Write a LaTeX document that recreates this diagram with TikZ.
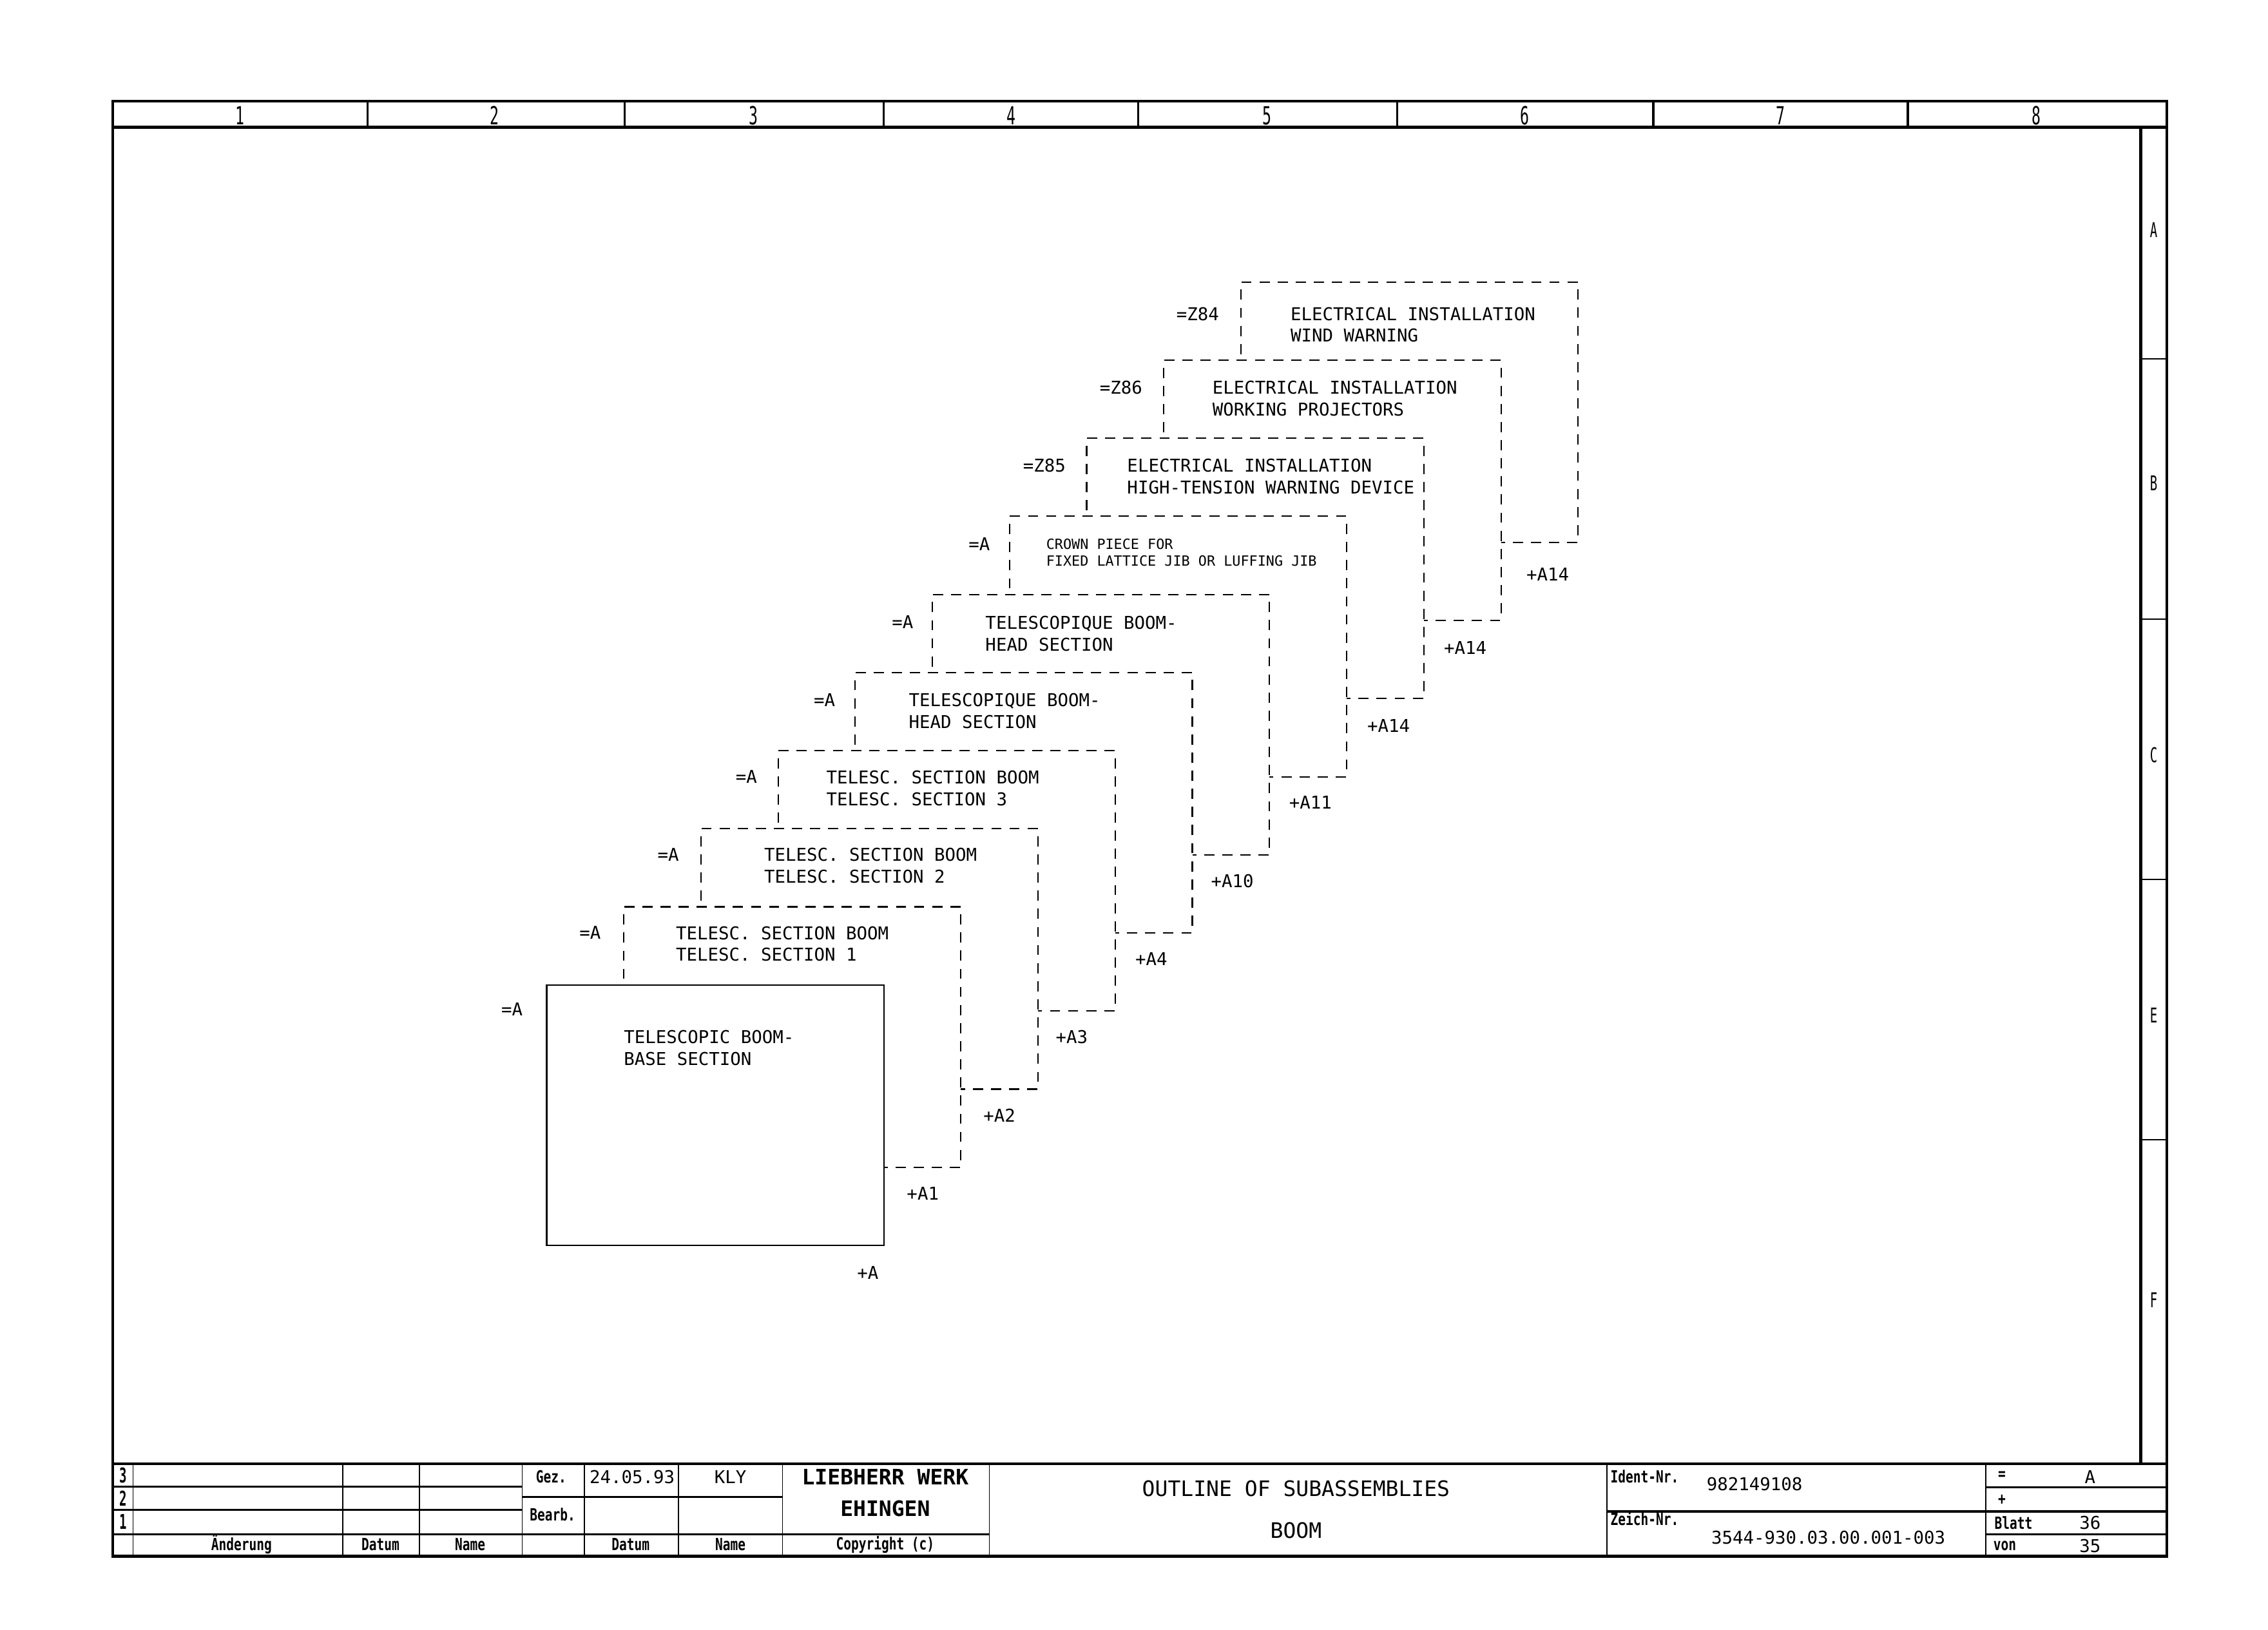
\documentclass[tikz,border=0pt]{standalone}
\usepackage{fontspec}
\setmainfont{DejaVu Sans Mono}
\newfontfamily\plotfont{DejaVu Sans Mono}
\newfontfamily\narrowfont[FakeStretch=0.6]{DejaVu Sans Mono}
\newfontfamily\labelfont[FakeStretch=0.75]{DejaVu Sans Mono}
\begin{document}
\begin{tikzpicture}[x=0.022449cm,y=-0.022449cm]
\tikzset{
  frame/.style={line width=1.3pt},
  midline/.style={line width=0.9pt},
  thinline/.style={line width=0.5pt},
  box/.style={draw, fill=white, line width=0.6pt, dash pattern=on 4.5pt off 3.5pt,
    minimum width=5.231cm, minimum height=4.041cm, inner sep=0pt},
  solidbox/.style={box, solid},
  txt/.style={font=\plotfont\fontsize{7.8}{9.55}\selectfont, align=left, anchor=west, inner sep=0pt},
  smalltxt/.style={font=\plotfont\fontsize{6.2}{7.6}\selectfont, align=left, anchor=west, inner sep=0pt},
  tag/.style={font=\plotfont\fontsize{7.8}{9.55}\selectfont, inner sep=0pt},
  hdr/.style={font=\narrowfont\fontsize{11}{11}\selectfont, inner sep=0pt},
  rowlbl/.style={font=\narrowfont\fontsize{9}{9}\selectfont, inner sep=0pt},
  revlbl/.style={font=\narrowfont\bfseries\fontsize{9}{9}\selectfont, inner sep=0pt},
  tblbl/.style={font=\labelfont\bfseries\fontsize{7.4}{7.4}\selectfont, inner sep=0pt},
  tbtxt/.style={font=\plotfont\fontsize{7.8}{7.8}\selectfont, inner sep=0pt},
  tbbig/.style={font=\plotfont\fontsize{9.4}{9.4}\selectfont, inner sep=0pt},
  tbbold/.style={font=\plotfont\bfseries\fontsize{9.4}{9.4}\selectfont, inner sep=0pt}
}
\useasboundingbox (0,0) rectangle (1568,1127);

% ---------- drawing frame ----------
\draw[frame] (78,70) rectangle (1498,1076);
\draw[frame] (78,88) -- (1498,88);
\draw[frame] (1480,88) -- (1480,1012);
\draw[frame] (78,1012) -- (1498,1012);
\foreach \x in {254,432,611,787,966,1143,1319} \draw[midline] (\x,70) -- (\x,88);
\foreach \y in {248,428,608,788} \draw[thinline] (1480,\y) -- (1498,\y);
\foreach \n/\x in {1/166,2/342,3/521,4/699,5/876,6/1054,7/1231,8/1408}
  \node[hdr] (col\n) at (\x,80) {\n};
\foreach \r/\y in {A/159,B/334,C/522,E/702,F/899}
  \node[rowlbl] (row\r) at (1489,\y) {\r};

% ---------- subassembly boxes, back to front ----------
\node[box] (b9) at (974.5,285) {};
\node[box] (b8) at (921.2,339) {};
\node[box] (b7) at (867.8,393) {};
\node[box] (b6) at (814.5,447) {};
\node[box] (b5) at (761.2,501) {};
\node[box] (b4) at (707.8,555) {};
\node[box] (b3) at (654.5,609) {};
\node[box] (b2) at (601.2,663) {};
\node[box] (b1) at (547.8,717) {};
\node[solidbox] (b0) at (494.5,771) {};

% box titles
\node[txt] (t9) at (892,224.5) {ELECTRICAL INSTALLATION\\WIND WARNING};
\node[txt] (t8) at (838,275.5) {ELECTRICAL INSTALLATION\\WORKING PROJECTORS};
\node[txt] (t7) at (779,329.5) {ELECTRICAL INSTALLATION\\HIGH-TENSION WARNING DEVICE};
\node[smalltxt] (t6) at (723,382) {CROWN PIECE FOR\\FIXED LATTICE JIB OR LUFFING JIB};
\node[txt] (t5) at (681,438) {TELESCOPIQUE BOOM-\\HEAD SECTION};
\node[txt] (t4) at (628,491.5) {TELESCOPIQUE BOOM-\\HEAD SECTION};
\node[txt] (t3) at (571,545) {TELESC. SECTION BOOM\\TELESC. SECTION 3};
\node[txt] (t2) at (528,598.5) {TELESC. SECTION BOOM\\TELESC. SECTION 2};
\node[txt] (t1) at (467,652.5) {TELESC. SECTION BOOM\\TELESC. SECTION 1};
\node[txt] (t0) at (431,724.5) {TELESCOPIC BOOM-\\BASE SECTION};

% function designations
\node[tag] (e9) at (828,217) {=Z84};
\node[tag] (e8) at (775,268) {=Z86};
\node[tag] (e7) at (722,322) {=Z85};
\node[tag] (e6) at (677,376) {=A};
\node[tag] (e5) at (624,430) {=A};
\node[tag] (e4) at (570,484) {=A};
\node[tag] (e3) at (516,537) {=A};
\node[tag] (e2) at (462,591) {=A};
\node[tag] (e1) at (408,645) {=A};
\node[tag] (e0) at (354,698) {=A};

% location designations
\node[tag] (p9) at (1070,397) {+A14};
\node[tag] (p8) at (1013,448) {+A14};
\node[tag] (p7) at (960,502) {+A14};
\node[tag] (p6) at (906,555) {+A11};
\node[tag] (p5) at (852,609) {+A10};
\node[tag] (p4) at (796,663) {+A4};
\node[tag] (p3) at (741,717) {+A3};
\node[tag] (p2) at (691,771) {+A2};
\node[tag] (p1) at (638,825) {+A1};
\node[tag] (p0) at (600,880) {+A};

% ---------- title block ----------
\draw[midline] (78,1028) -- (361,1028);
\draw[midline] (78,1044) -- (361,1044);
\draw[midline] (78,1061) -- (684,1061);
\draw[midline] (361,1035) -- (541,1035);
\draw[midline] (1111,1045) -- (1498,1045);
\draw[midline] (1373,1028.5) -- (1498,1028.5);
\draw[midline] (1373,1061) -- (1498,1061);
\foreach \x in {92,237,290,361,404,469,541,684,1111,1373}
  \draw[thinline] (\x,1012) -- (\x,1076);

\node[revlbl] (rev3) at (85,1020) {3};
\node[revlbl] (rev2) at (85,1036) {2};
\node[revlbl] (rev1) at (85,1052) {1};
\node[tblbl] (hAend) at (167,1068) {Änderung};
\node[tblbl] (hDat1) at (263,1068) {Datum};
\node[tblbl] (hNam1) at (325,1068) {Name};
\node[tblbl] (hGez) at (381,1021) {Gez.};
\node[tblbl] (hBearb) at (382,1047) {Bearb.};
\node[tblbl] (hDat2) at (436,1068) {Datum};
\node[tblbl] (hNam2) at (505,1068) {Name};
\node[tbtxt] (date) at (437,1021) {24.05.93};
\node[tbtxt] (drawn) at (505,1021) {KLY};
\node[tbbold] (firm1) at (612,1021) {LIEBHERR WERK};
\node[tbbold] (firm2) at (612,1043) {EHINGEN};
\node[tblbl] (copy) at (612,1068) {Copyright (c)};
\node[tbbig] (title1) at (896,1029) {OUTLINE OF SUBASSEMBLIES};
\node[tbbig] (title2) at (896,1058) {BOOM};
\node[tblbl] (hIdent) at (1137,1021) {Ident-Nr.};
\node[tbtxt] (ident) at (1213,1026) {982149108};
\node[tblbl] (hZeich) at (1137,1050) {Zeich-Nr.};
\node[tbtxt] (zeich) at (1264,1063) {3544-930.03.00.001-003};
\node[tblbl] (hEq) at (1384,1020) {=};
\node[tbtxt] (vEq) at (1445,1021) {A};
\node[tblbl] (hPlus) at (1384,1037) {+};
\node[tblbl] (hBlatt) at (1392,1053) {Blatt};
\node[tbtxt] (vBlatt) at (1445,1053) {36};
\node[tblbl] (hVon) at (1386,1069) {von};
\node[tbtxt] (vVon) at (1445,1069) {35};
\end{tikzpicture}
\end{document}
